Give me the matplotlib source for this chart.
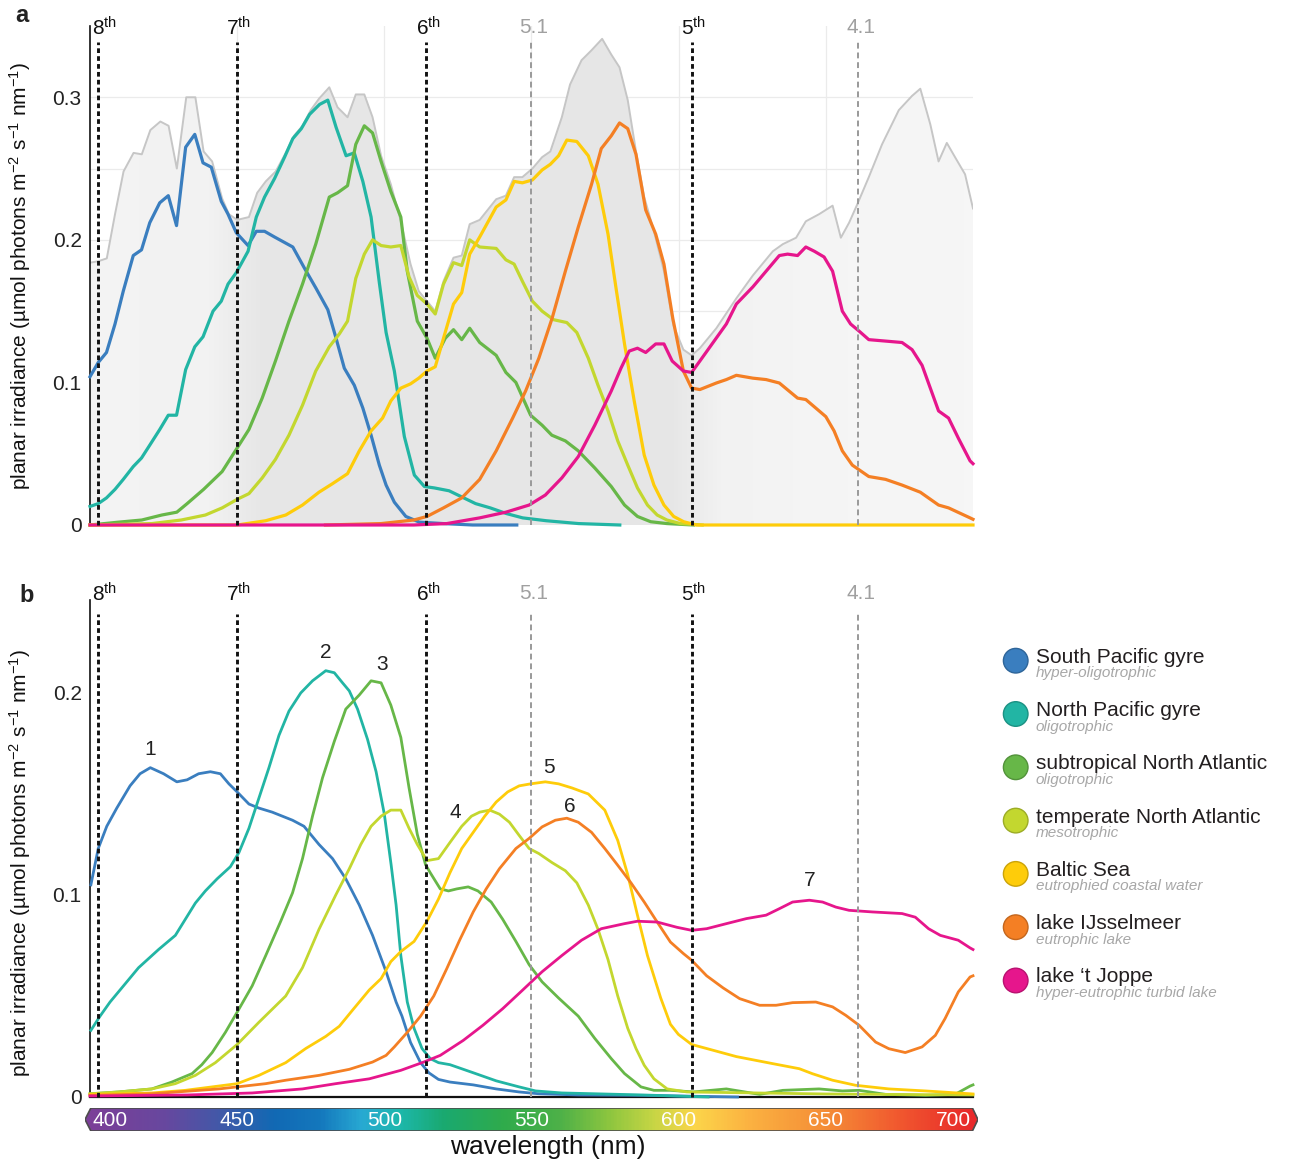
import numpy as np
import matplotlib
matplotlib.use('Agg')
import matplotlib.pyplot as plt
from matplotlib.colors import LinearSegmentedColormap, to_rgb
from matplotlib.patches import Polygon, Circle

plt.rcParams['font.family'] = ['Liberation Sans', 'DejaVu Sans']
plt.rcParams['mathtext.fontset'] = 'custom'
plt.rcParams['mathtext.rm'] = 'Liberation Sans'
plt.rcParams['mathtext.it'] = 'Liberation Sans:italic'
plt.rcParams['mathtext.bf'] = 'Liberation Sans:bold'

# ---------------- data ----------------
names = ['South Pacific gyre', 'North Pacific gyre', 'subtropical North Atlantic',
         'temperate North Atlantic', 'Baltic Sea', 'lake IJsselmeer', "lake \u2018t Joppe"]
subtitles = ['hyper-oligotrophic', 'oligotrophic', 'oligotrophic', 'mesotrophic',
             'eutrophied coastal water', 'eutrophic lake', 'hyper-eutrophic turbid lake']
colors = ['#3a7ebf', '#22b5a4', '#67b748', '#c3d72f', '#fecc0a', '#f47f24', '#e6168c']

band_names = ['8$^{\\mathrm{th}}$', '7$^{\\mathrm{th}}$', '6$^{\\mathrm{th}}$', '5.1',
              '5$^{\\mathrm{th}}$', '4.1']
band_wl = [402.7, 449.8, 514.3, 549.9, 604.4, 661.0]
band_major = [True, True, True, False, True, False]

# panel a: irradiance spectra (wavelength, value)
a_south_pacific = [(400, .104), (402.8, .114), (405.6, .121), (408.5, .141), (411.3, .164), (414.7, .189),
    (417.5, .193), (420.3, .212), (423.7, .226), (426.6, .231), (429.4, .210), (432.5, .265), (435.6, .274),
    (438.4, .254), (441.2, .251), (444.6, .227), (446.9, .218), (449.7, .205), (453.7, .196), (456.5, .206),
    (459.3, .206), (462.7, .202), (468.9, .195), (472.9, .180), (476.8, .166), (480.8, .151), (483.6, .131),
    (486.4, .110), (489.8, .098), (492.7, .082), (495.5, .063), (498.3, .042), (500.6, .028), (503.4, .016),
    (507.3, .006), (511.9, .002), (520, .001), (530, 0), (545, 0)]
a_north_pacific = [(400, .013), (402.8, .015), (405.6, .019), (408.5, .025), (411.3, .032), (414.7, .041),
    (417.5, .047), (420.3, .056), (423.7, .067), (426.6, .077), (429.4, .077), (432.5, .109), (435.6, .125),
    (438.4, .132), (441.8, .150), (444.6, .157), (446.9, .169), (449.7, .177), (453.7, .192), (456.5, .216),
    (459.3, .230), (462.7, .243), (466.1, .258), (468.9, .271), (471.8, .278), (474.6, .288), (478, .295),
    (480.8, .298), (483.6, .279), (487, .259), (489.8, .261), (492.7, .241), (495.5, .216), (498.3, .17),
    (500.6, .135), (503.4, .108), (506.8, .062), (510.2, .035), (513.6, .027), (517, .026), (522, .024),
    (527, .019), (531, .015), (536, .012), (541.5, .008), (547, .005), (555, .003), (566, .001), (580, 0)]
a_subtropical = [(400, 0), (409.7, .002), (417.6, .0035), (424.4, .007), (429.5, .009), (433, .015),
    (438.6, .025), (444.9, .0375), (450, .054), (454, .067), (458.5, .089), (463, .115), (467.6, .143),
    (472.2, .169), (476.7, .197), (481.3, .230), (484.1, .233), (487.5, .238), (490.3, .267), (493.2, .280),
    (496, .275), (498.9, .255), (502.2, .234), (505.6, .216), (507.8, .178), (511.2, .143), (514.5, .131),
    (517.3, .117), (520.7, .131), (523.5, .137), (526.3, .130), (529, .138), (532.4, .128), (538, .119),
    (541.3, .107), (544.7, .100), (549.7, .077), (553.6, .070), (556.9, .063), (561.5, .059), (565.9, .052),
    (571.5, .040), (577.1, .027), (581.6, .014), (586, .006), (590.5, .0023), (596, .001), (605, 0)]
a_temperate = [(400, 0), (421, .001), (431, .0035), (439.2, .007), (444.9, .012), (450, .018), (454, .022),
    (458.5, .033), (463, .046), (467.6, .063), (472.2, .084), (476.7, .108), (481.3, .125), (484.7, .134),
    (487.5, .143), (490.3, .173), (493.2, .190), (496, .200), (498.9, .196), (502.2, .195), (505.6, .196),
    (508.4, .174), (511.2, .161), (514.5, .155), (517.3, .148), (520.1, .169), (523.5, .184), (526.3, .182),
    (529, .200), (532.4, .195), (538, .194), (541.3, .186), (544.1, .183), (546.9, .171), (550.3, .157),
    (553.6, .150), (557.5, .144), (562, .142), (565.4, .135), (569.3, .117), (572.6, .098), (576, .080),
    (579.3, .059), (582.7, .042), (586, .026), (589.4, .014), (592.7, .007), (596, .0035), (600.6, .001),
    (608, 0)]
a_baltic = [(400, 0), (450, 0), (459.7, .003), (466.5, .007), (472.2, .014), (477.8, .023), (482.4, .029),
    (487.5, .036), (491.5, .052), (495.5, .066), (499.4, .075), (502.2, .087), (505.6, .096), (508.9, .099),
    (511.7, .103), (514.5, .108), (517.3, .111), (520.1, .131), (523.5, .155), (526.3, .163), (529, .190),
    (532.4, .202), (538, .223), (541.3, .228), (544.1, .241), (546.9, .240), (550.3, .242), (553.6, .249),
    (556.4, .253), (559.2, .259), (562, .270), (565.4, .269), (569.3, .259), (572.6, .239), (576, .204),
    (578.8, .165), (581.6, .127), (584.9, .087), (588.3, .049), (591.6, .028), (595, .014), (598.3, .006),
    (601.7, .0023), (606, 0), (700, 0)]
a_ijsselmeer = [(480, 0), (498.9, .001), (510, .0035), (514.5, .006), (520.1, .012), (526.3, .019),
    (532.4, .032), (538, .052), (543.6, .075), (548, .094), (552.5, .117), (557, .145), (561.5, .178),
    (565.9, .209), (570.4, .239), (573.7, .264), (577.1, .273), (579.9, .282), (582.7, .278), (585.5, .260),
    (588.8, .221), (592.2, .204), (595, .183), (598, .145), (601.6, .108), (604.4, .096), (607.2, .095),
    (612.8, .0996), (616.2, .102), (619.6, .105), (625.2, .103), (629.7, .102), (634.2, .0996), (640.4, .089),
    (643.2, .088), (646.6, .082), (650, .076), (652.8, .066), (655.6, .052), (659, .042), (664.6, .034),
    (670.3, .032), (675.9, .028), (682.1, .023), (688.3, .014), (691.7, .012), (699, .005), (700, .004)]
a_joppe = [(400, 0), (510, 0), (521.2, .001), (532.4, .005), (541.3, .009), (549.2, .014), (554.7, .021),
    (560.3, .033), (565.9, .048), (571.5, .070), (577.1, .094), (580.4, .110), (583.2, .122), (586, .124),
    (588.8, .121), (592.2, .127), (595, .127), (597.8, .115), (601.6, .108), (604.4, .107), (607.2, .115),
    (611.7, .128), (616.2, .141), (619.6, .155), (625.2, .167), (629.7, .178), (634.2, .189), (637, .190),
    (640.4, .189), (643.2, .195), (646.1, .192), (649.4, .188), (652.3, .178), (655.6, .150), (658.4, .141),
    (661.3, .136), (664.6, .130), (670.3, .129), (675.9, .128), (679.3, .123), (682.7, .112), (685.5, .096),
    (688.3, .080), (691.7, .075), (695, .061), (699, .045), (700, .043)]

# upper envelope of the grey family of spectra in panel a
a_grey_envelope = [(400, .184), (402.8, .185), (405.7, .187), (408.5, .218), (411.4, .248), (414.8, .261),
    (417.6, .260), (420.5, .277), (423.9, .283), (426.7, .280), (429.5, .250), (432.7, .300), (435.8, .300),
    (438.6, .262), (441.5, .255), (444.9, .229), (447.2, .218), (450, .214), (454, .216), (456.8, .233),
    (459.7, .241), (463.1, .248), (466.5, .261), (469.3, .273), (472.2, .280), (475, .291), (477.8, .299),
    (481.3, .307), (484.1, .293), (487.5, .286), (490.3, .302), (493.2, .302), (496, .286), (498.9, .259),
    (502.2, .239), (505.6, .213), (508.9, .183), (511.7, .164), (514.5, .157), (517.3, .150), (520.1, .171),
    (523.5, .1875), (526.3, .189), (529, .211), (532.4, .214), (538, .2285), (541.3, .231), (544.1, .244),
    (546.9, .244), (550.3, .250), (553.6, .258), (556.4, .262), (560.3, .286), (563.1, .309), (567, .326),
    (570.4, .333), (574, .341), (577.1, .330), (579.9, .321), (582.7, .298), (585.5, .262), (588.3, .230),
    (591.6, .206), (595, .178), (598.2, .140), (601.6, .123), (604.4, .119), (607.2, .124), (612.8, .138),
    (619.6, .159), (625.2, .175), (632, .192), (635.4, .197), (639.9, .2015), (643.2, .213), (647.7, .218),
    (652.3, .224), (655.1, .2015), (657.9, .212), (660.7, .225), (664.6, .244), (669.1, .267), (674.8, .291),
    (679.3, .301), (682.1, .306), (685.5, .281), (688.3, .255), (691.1, .268), (693.9, .258), (697.3, .246),
    (700, .222)]

# panel b: measured spectra (wavelength, value)
b_south_pacific = [(400.3, .105), (402.8, .123), (405.7, .134), (409.1, .143), (413.6, .154), (417, .160),
    (420.5, .163), (425, .160), (429.5, .156), (433, .157), (436.9, .160), (440.9, .161), (444.3, .160),
    (447.2, .155), (450, .151), (454, .145), (457.4, .143), (461.9, .141), (468.8, .137), (472.7, .134),
    (477.8, .125), (482.4, .118), (486.9, .108), (491.5, .095), (496, .080), (500.6, .062), (504, .047),
    (506, .040), (508.9, .027), (512.3, .017), (515.1, .012), (518.4, .0087), (522.3, .0074), (530.2, .006),
    (538, .004), (545.8, .0025), (552.5, .0016), (566, .001), (588, .0008), (620, 0)]
b_north_pacific = [(400.3, .033), (403.4, .040), (406.8, .047), (410.8, .054), (416.5, .064), (423.3, .073),
    (429, .080), (432.4, .088), (435.8, .096), (439.2, .102), (443.2, .108), (447.7, .114), (450.6, .121),
    (454, .133), (457.4, .148), (460.8, .163), (464.2, .179), (467.6, .191), (471.6, .200), (475.6, .206),
    (480.1, .211), (483, .210), (485.8, .205), (488.1, .201), (490.9, .192), (494.3, .177), (497.2, .161),
    (500, .140), (502.3, .115), (504, .095), (505.6, .070), (507.8, .047), (510.1, .034), (512.8, .024),
    (515.6, .019), (518.4, .017), (522.3, .016), (530.2, .012), (538, .008), (545.8, .005), (551.4, .003),
    (560.3, .002), (571.5, .0016), (588, .001), (610, 0)]
b_subtropical = [(400, .0016), (409.7, .0025), (421, .004), (427.8, .0074), (434.7, .0116), (438, .016),
    (441.5, .022), (446, .032), (450, .042), (455.1, .055), (459.7, .070), (464.8, .087), (468.8, .101),
    (472.2, .118), (475.6, .139), (479, .158), (483, .176), (486.9, .192), (491.5, .199), (495.5, .206),
    (498.9, .205), (502.2, .194), (505.6, .178), (508.4, .153), (511.2, .130), (514, .115), (515.6, .111),
    (519, .103), (521.8, .102), (524.6, .103), (528.5, .104), (531.8, .102), (536.3, .0965), (540.2, .088),
    (544.7, .077), (549.2, .0655), (553.6, .057), (559.2, .049), (565.9, .040), (571.5, .029), (577.1, .019),
    (581.6, .0116), (587.2, .005), (591.6, .0033), (597.2, .0033), (605, .0025), (616.2, .004), (627.5, .0013),
    (635.4, .0033), (647.7, .004), (655.6, .003), (661.3, .0033), (670.3, .0013), (683.8, .0008),
    (693.9, .0013), (699, .0054), (700, .006)]
b_temperate = [(400, .0016), (409.7, .0025), (421, .004), (429, .0066), (435.8, .0107), (442.6, .017),
    (450, .026), (457.4, .037), (466.5, .050), (472.2, .064), (477.8, .083), (483.5, .100), (488.1, .113),
    (492, .125), (495.5, .134), (498.9, .139), (502.2, .142), (505.6, .142), (508.4, .133), (511.2, .125),
    (514.5, .117), (518.4, .118), (522.3, .126), (526.3, .134), (529.6, .139), (532.4, .141), (535.8, .142),
    (539.1, .140), (542.5, .136), (545.8, .1295), (549.2, .123), (552.5, .1205), (557, .116), (561.5, .112),
    (565.4, .106), (569.3, .095), (572.6, .083), (576, .068), (579.3, .050), (582.7, .034), (585.5, .024),
    (588.3, .0157), (591.6, .009), (596.1, .004), (602.8, .0025), (650, .0015), (700, .001)]
b_baltic = [(400, .0013), (421, .002), (432.4, .0033), (441.5, .005), (450, .0066), (457.4, .0107),
    (466.5, .017), (473.3, .024), (480.1, .030), (484.7, .035), (489.2, .043), (494.9, .053), (498.9, .0586),
    (502.2, .067), (505.6, .072), (510.1, .077), (514.5, .087), (518.4, .098), (522.3, .111), (526.3, .123),
    (530.2, .131), (534.1, .139), (538, .146), (541.9, .151), (545.8, .154), (549.7, .155), (554.7, .156),
    (559.2, .155), (563.7, .153), (569.3, .150), (574.9, .142), (579.3, .127), (582.7, .110), (586, .090),
    (589.4, .070), (593.9, .049), (597.2, .036), (599.9, .031), (604.4, .026), (609.5, .024), (619.6, .020),
    (632, .0165), (641, .014), (645.5, .0115), (652.3, .0083), (660.1, .0058), (671.4, .004), (683.8, .003),
    (699, .0016), (700, .0015)]
b_ijsselmeer = [(400, .0008), (421, .0016), (432.4, .0028), (443.8, .004), (450, .005), (459.7, .0066),
    (466.5, .0083), (477.8, .0107), (488.1, .0137), (496, .0173), (500.6, .0206), (503.4, .0248), (507.8, .032),
    (512.3, .040), (516.8, .050), (521.2, .0635), (525.7, .078), (530.2, .0916), (534.6, .103), (539.1, .113),
    (544.7, .123), (549.2, .128), (553.6, .1337), (558.1, .137), (562, .138), (565.9, .136), (570.4, .131),
    (574.9, .123), (579.3, .1147), (583.8, .106), (588.3, .0965), (592.7, .0866), (597.2, .0767),
    (601.6, .071), (604.4, .0677), (609.5, .060), (615.1, .054), (620.7, .0487), (627.5, .0454),
    (633.1, .0454), (638.7, .0467), (646.6, .047), (652.3, .0446), (656.8, .0404), (661.3, .0355),
    (666.9, .0272), (671.4, .0239), (677, .022), (682.7, .0248), (687.2, .0305), (690.5, .0388), (695, .052),
    (699, .0594), (700, .060)]
b_joppe = [(400, .0005), (433, .001), (455.1, .002), (472.2, .004), (483.5, .0066), (494.9, .009),
    (505.6, .0132), (513.4, .0173), (519, .0206), (526.8, .028), (533.5, .0355), (540.2, .0437), (546.9, .0528),
    (553.6, .062), (560.3, .070), (567, .0776), (573.7, .0833), (581.6, .0858), (586, .087), (592.7, .0866),
    (599.4, .084), (604.4, .0825), (609.5, .0833), (616.2, .0858), (623, .0883), (629.7, .090), (634.2, .0932),
    (638.7, .0965), (644.4, .0974), (648.9, .0965), (653.4, .094), (657.9, .0924), (665.8, .0916),
    (675.9, .0908), (680.4, .089), (684.9, .0833), (688.9, .080), (695, .0776), (699, .0738), (700, .073)]

# curve numbers in panel b (wavelength, value)
b_label_text = ['1', '2', '3', '4', '5', '6', '7']
b_label_pos = [(420.5, .172), (480.1, .220), (499.2, .214), (524, .141), (555.9, .163), (563.1, .1436),
               (644.4, .107)]

# colour bar stops
cb_wl = [400, 425, 445, 462, 478, 492, 505, 520, 540, 560, 577, 592, 606, 625, 650, 675, 700]
cb_col = ['#7b3f98', '#67489f', '#3f5aa9', '#1169b4', '#1478bd', '#28a9d3', '#1db8ac', '#1aa970',
          '#2fab4c', '#4eb148', '#8ec63f', '#c8d645', '#fcd54a', '#fbb141', '#f58e37', '#f1592f', '#e8292a']
cb_ticks = [400, 450, 500, 550, 600, 650, 700]

# ---------------- figure ----------------
W, H = 1291, 1166
fig = plt.figure(figsize=(W / 100, H / 100), dpi=100)

def fx(px):
    return px / W

def fy(py):
    return 1 - py / H

axA = fig.add_axes([fx(90), fy(525), fx(973) - fx(90), fy(26) - fy(525)])
axB = fig.add_axes([fx(90), fy(1097), fx(973) - fx(90), fy(600) - fy(1097)])

a_series = [a_south_pacific, a_north_pacific, a_subtropical, a_temperate, a_baltic, a_ijsselmeer, a_joppe]
b_series = [b_south_pacific, b_north_pacific, b_subtropical, b_temperate, b_baltic, b_ijsselmeer, b_joppe]

for ax in (axA, axB):
    for s in ['top', 'right']:
        ax.spines[s].set_visible(False)
    ax.spines['left'].set_color('#111111')
    ax.spines['left'].set_linewidth(1.2)
    ax.tick_params(axis='both', length=0, labelsize=15, colors='#222222', pad=6)
    ax.set_xticks([])

# panel a
axA.spines['bottom'].set_visible(False)
for yv in [0.05, 0.1, 0.15, 0.2, 0.25, 0.3]:
    axA.axhline(yv, color='#ebebeb', lw=0.9, zorder=0)
for xv in [450, 500, 550, 600, 650]:
    axA.axvline(xv, color='#ebebeb', lw=0.9, zorder=0)

# grey family of spectra: shaded under its envelope, denser tone in the middle
env = np.array(a_grey_envelope)
poly = np.vstack([[env[0, 0], 0], env, [env[-1, 0], 0]])
env_patch = Polygon(poly, closed=True, fc='none', ec='none', transform=axA.transData)
axA.add_patch(env_patch)
shade_wl = [400, 440, 458, 598, 615, 650, 700]
shade_level = [0.955, 0.95, 0.905, 0.905, 0.95, 0.96, 0.965]
xs = np.linspace(400, 700, 601)
row = np.interp(xs, shade_wl, shade_level)
img = np.dstack([row, row, row]).reshape(1, -1, 3)
shade = axA.imshow(img, extent=(400, 700, 0, 0.35), aspect='auto', zorder=1, interpolation='bilinear')
shade.set_clip_path(env_patch)
axA.plot(env[:, 0], env[:, 1], color='#c6c6c6', lw=1.4, zorder=2)

axA.set_xlim(400, 700)
axA.set_ylim(0, 0.35)
axA.set_yticks([0, 0.1, 0.2, 0.3])
axA.set_yticklabels(['0', '0.1', '0.2', '0.3'])

# panel b
axB.set_xlim(400, 700)
axB.set_ylim(0, 0.246)
axB.spines['bottom'].set_color('#111111')
axB.spines['bottom'].set_linewidth(1.6)
axB.set_yticks([0, 0.1, 0.2])
axB.set_yticklabels(['0', '0.1', '0.2'])

# water absorption bands
for ax, ytop, ylab in ((axA, 0.339, 0.349), (axB, 0.239, 0.249)):
    for name, wl, major in zip(band_names, band_wl, band_major):
        if major:
            ax.plot([wl, wl], [0, ytop], color='#111111', lw=2.1, ls=(0, (1.6, 1.1)), zorder=6,
                    clip_on=False)
            tc = '#111111'
        else:
            ax.plot([wl, wl], [0, ytop], color='#999999', lw=1.4, ls=(0, (3, 2)), zorder=6,
                    clip_on=False)
            tc = '#a0a0a0'
        xoff = 2.2 if wl < 410 else 0.8
        ax.text(wl + xoff, ylab, name, ha='center', va='center', fontsize=15, color=tc, clip_on=False)

for data, c in zip(a_series, colors):
    d = np.array(data)
    axA.plot(d[:, 0], d[:, 1], color=c, lw=2.3, zorder=5, clip_on=False, solid_joinstyle='round')
for data, c in zip(b_series, colors):
    d = np.array(data)
    axB.plot(d[:, 0], d[:, 1], color=c, lw=2.0, zorder=5, clip_on=False, solid_joinstyle='round')

for t, (xv, yv) in zip(b_label_text, b_label_pos):
    axB.text(xv, yv, t, ha='center', va='center', fontsize=15, color='#222222')

ylab = 'planar irradiance (\u00b5mol photons m$^{-2}$ s$^{-1}$ nm$^{-1}$)'
axA.set_ylabel(ylab, fontsize=15, color='#111111')
axB.set_ylabel(ylab, fontsize=15, color='#111111')
axA.yaxis.set_label_coords(-0.064, 0.5)
axB.yaxis.set_label_coords(-0.064, 0.47)

# colour bar
axC = fig.add_axes([fx(85), fy(1131), fx(978) - fx(85), fy(1108) - fy(1131)])
cmap = LinearSegmentedColormap.from_list(
    'spec', [((w - 400) / 300, to_rgb(c)) for w, c in zip(cb_wl, cb_col)])
grad = np.linspace(0, 1, 600).reshape(1, -1)
im = axC.imshow(grad, extent=(400, 700, 0, 1), aspect='auto', cmap=cmap, interpolation='bilinear')
im2 = axC.imshow(grad[:, :1], extent=(398.2, 400, 0, 1), aspect='auto', cmap=cmap, vmin=0, vmax=1)
im3 = axC.imshow(grad[:, -1:], extent=(700, 701.7, 0, 1), aspect='auto', cmap=cmap, vmin=0, vmax=1)
axC.set_xlim(398.2, 701.7)
axC.set_ylim(0, 1)
axC.axis('off')
shape = Polygon([(398.2, 0.5), (400.2, 1), (699.8, 1), (701.7, 0.5), (699.8, 0), (400.2, 0)],
                closed=True, transform=axC.transData, fc='none', ec='#4d4d4d', lw=1.2, zorder=5)
axC.add_patch(shape)
for imx in (im, im2, im3):
    imx.set_clip_path(shape)
for t in cb_ticks:
    if t == 400:
        xt, ha = 400.8, 'left'
    elif t == 700:
        xt, ha = 699.2, 'right'
    else:
        xt, ha = t, 'center'
    axC.text(xt, 0.45, str(t), ha=ha, va='center', color='white', fontsize=15,
             family=['Liberation Sans Narrow', 'Liberation Sans', 'DejaVu Sans'])

fig.text(fx(548), fy(1147), 'wavelength (nm)', ha='center', va='center', fontsize=19, color='#111111')

# panel letters
fig.text(fx(22), fy(15), 'a', ha='center', va='center', fontsize=17, fontweight='bold', color='#222222')
fig.text(fx(27), fy(596), 'b', ha='center', va='center', fontsize=17, fontweight='bold', color='#222222')

# legend overlay
axL = fig.add_axes([0, 0, 1, 1])
axL.set_xlim(0, W)
axL.set_ylim(H, 0)
axL.axis('off')
axL.patch.set_alpha(0)
for i, (n, s, c) in enumerate(zip(names, subtitles, colors)):
    cy = 660.7 + i * 53.3
    edge = tuple(max(0, v * 0.8) for v in to_rgb(c))
    axL.add_patch(Circle((1015.7, cy), 12.3, fc=c, ec=edge, lw=1.0))
    axL.text(1036, cy + 2, n, ha='left', va='baseline', fontsize=15, color='#231f20')
    axL.text(1036, cy + 16.5, s, ha='left', va='baseline', fontsize=11, style='italic', color='#a7a7a7')

fig.savefig('out.png', dpi=100)
